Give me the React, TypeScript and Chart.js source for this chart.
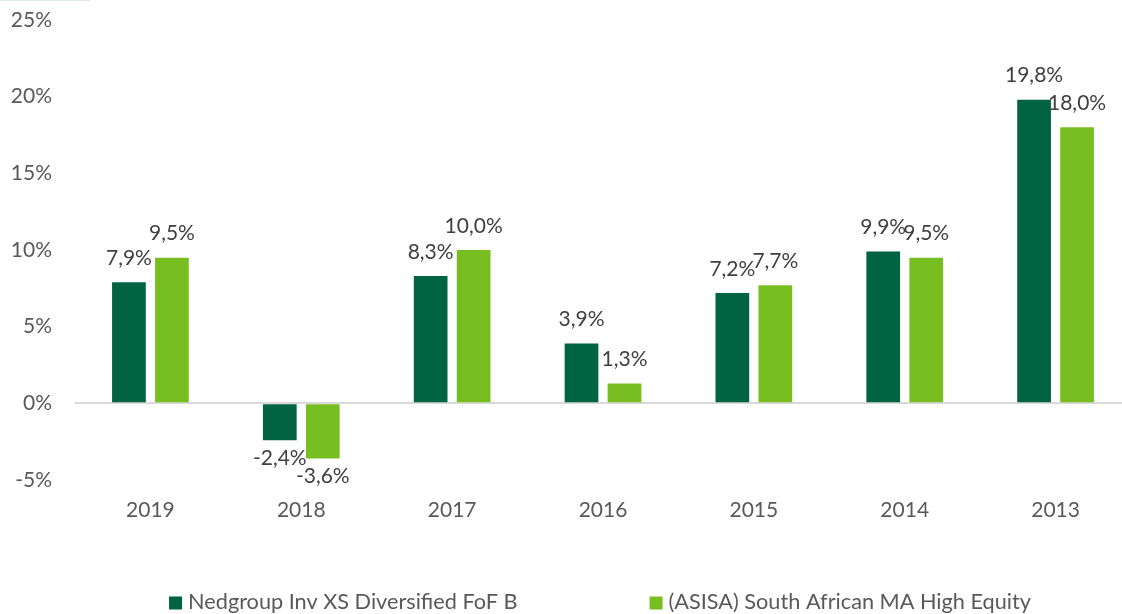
import React, { useEffect, useRef } from "react";
import { Chart, registerables } from "chart.js";

Chart.register(...registerables);

const categories = ["2019", "2018", "2017", "2016", "2015", "2014", "2013"];
const fundLabel = "Nedgroup Inv XS Diversified FoF B";
const fundValues = [7.9, -2.4, 8.3, 3.9, 7.2, 9.9, 19.8];
const sectorLabel = "(ASISA) South African MA High Equity";
const sectorValues = [9.5, -3.6, 10.0, 1.3, 7.7, 9.5, 18.0];
const yTicks = [-5, 0, 5, 10, 15, 20, 25];

const FONT = "Lato, 'Open Sans', sans-serif";
const DARK = "#006341";
const LIGHT = "#78be20";

const fmt = (v: number) => v.toFixed(1).replace(".", ",") + "%";

const dataLabels = {
  id: "dataLabels",
  afterDatasetsDraw(chart: any) {
    const ctx = chart.ctx;
    ctx.save();
    ctx.font = `21px ${FONT}`;
    ctx.fillStyle = "#404040";
    ctx.textAlign = "center";
    ctx.textBaseline = "middle";
    chart.data.datasets.forEach((ds: any, di: number) => {
      const meta = chart.getDatasetMeta(di);
      meta.data.forEach((el: any, i: number) => {
        const v = ds.data[i];
        const y = v >= 0 ? el.y - 24 : el.y + 18;
        ctx.fillText(fmt(v), el.x, y);
      });
    });
    ctx.restore();
  },
};

const bottomLegend = {
  id: "bottomLegend",
  afterDraw(chart: any) {
    const ctx = chart.ctx;
    ctx.save();
    ctx.font = `21.7px ${FONT}`;
    ctx.textBaseline = "middle";
    ctx.textAlign = "left";
    const box = 13;
    const gapBoxText = 6;
    const gapItems = 132;
    const items = chart.data.datasets.map((ds: any) => ({
      label: ds.label,
      color: ds.backgroundColor,
      w: box + gapBoxText + ctx.measureText(ds.label).width,
    }));
    const total = items.reduce((s: number, it: any) => s + it.w, 0) + gapItems * (items.length - 1);
    const area = chart.chartArea;
    let x = (area.left + area.right) / 2 - 3 - total / 2;
    const y = 602;
    items.forEach((it: any) => {
      ctx.fillStyle = it.color;
      ctx.fillRect(x, y - box / 2 + 1, box, box);
      ctx.fillStyle = "#595959";
      ctx.fillText(it.label, x + box + gapBoxText, y);
      x += it.w + gapItems;
    });
    ctx.restore();
  },
};

export default function App() {
  const ref = useRef<HTMLCanvasElement | null>(null);

  useEffect(() => {
    if (!ref.current) return;
    const chart = new Chart(ref.current, {
      type: "bar",
      data: {
        labels: categories,
        datasets: [
          {
            label: fundLabel,
            data: fundValues,
            backgroundColor: DARK,
            categoryPercentage: 0.57,
            barPercentage: 0.784,
          },
          {
            label: sectorLabel,
            data: sectorValues,
            backgroundColor: LIGHT,
            categoryPercentage: 0.57,
            barPercentage: 0.784,
          },
        ],
      },
      options: {
        animation: false,
        responsive: false,
        layout: { padding: { top: 20, bottom: 91, left: 0, right: 0 } },
        plugins: {
          legend: { display: false },
          tooltip: { enabled: false },
        },
        scales: {
          x: {
            grid: { display: false, drawTicks: false },
            border: { display: false },
            ticks: {
              color: "#595959",
              font: { family: FONT, size: 21 },
              padding: 18,
            },
            afterFit: (s: any) => {
              s.height = 43;
              s.paddingLeft = 0;
              s.paddingRight = 0;
            },
          },
          y: {
            min: -5,
            max: 25,
            afterBuildTicks: (s: any) => {
              s.ticks = yTicks.map((v) => ({ value: v }));
            },
            grid: {
              drawTicks: false,
              lineWidth: 2,
              color: (c: any) => (c.tick && c.tick.value === 0 ? "#d9d9d9" : "rgba(0,0,0,0)"),
            },
            border: { display: false },
            ticks: {
              color: "#595959",
              font: { family: FONT, size: 21 },
              padding: 23,
              callback: (v: any) => v + "%",
            },
            afterFit: (s: any) => {
              s.width = 75;
              s.paddingTop = 0;
              s.paddingBottom = 0;
            },
          },
        },
      },
      plugins: [dataLabels, bottomLegend],
    });
    return () => chart.destroy();
  }, []);

  return (
    <div style={{ position: "absolute", left: 0, top: 0, width: 1122, height: 614, overflow: "hidden", background: "#fff" }}>
      <div style={{ position: "absolute", left: 0, top: 0, width: 90, height: 1, background: "#dfe9e3" }} />
      <canvas ref={ref} width={1131} height={614} style={{ width: 1131, height: 614, display: "block" }} />
    </div>
  );
}
